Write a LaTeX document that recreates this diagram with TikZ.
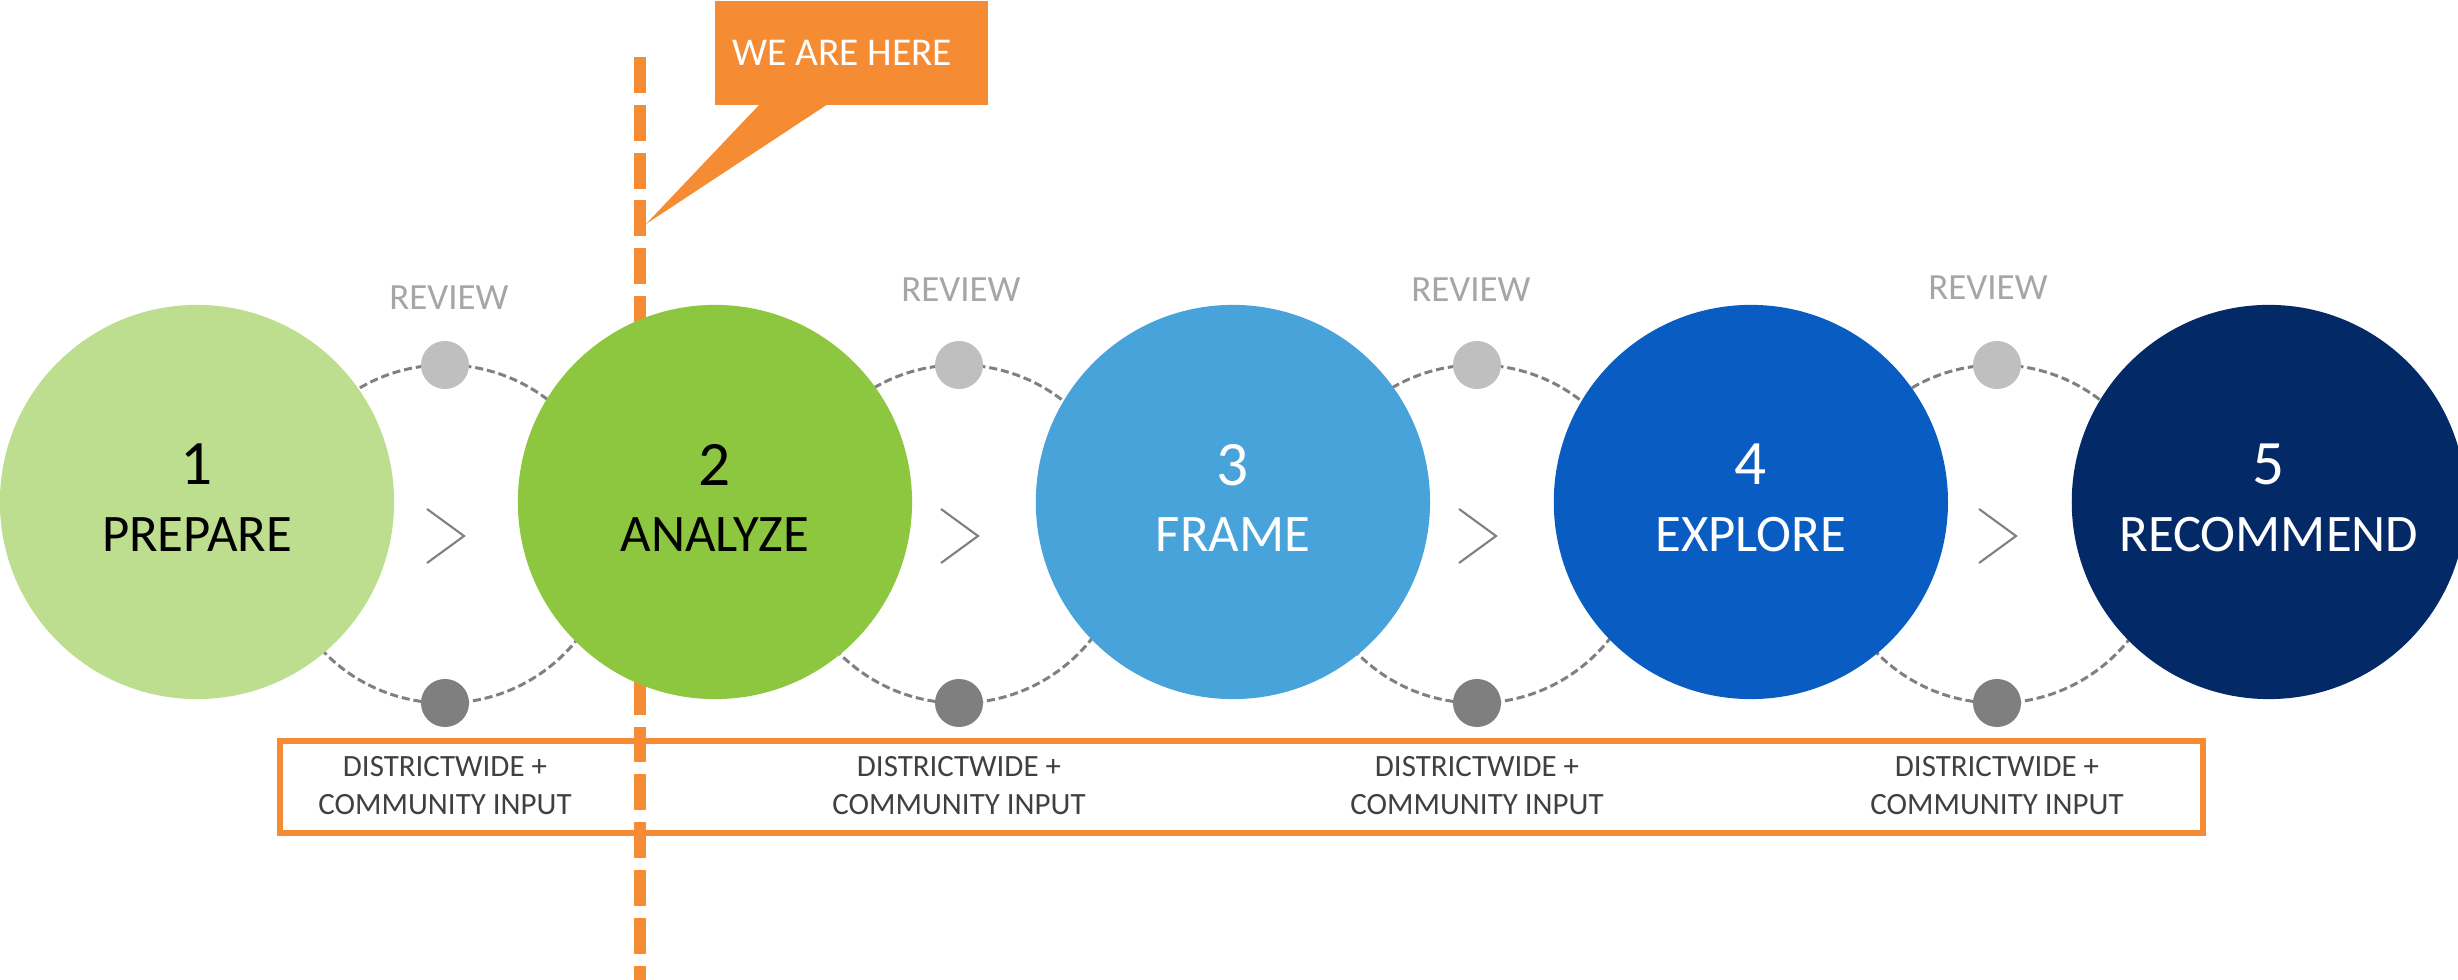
\documentclass[tikz,border=0pt]{standalone}
\usepackage{fontspec}
\setmainfont{Carlito}
\usetikzlibrary{positioning}
\definecolor{hereorange}{HTML}{F58B33}
\definecolor{prepgreen}{HTML}{BDDE8E}
\definecolor{anagreen}{HTML}{8DC63F}
\definecolor{frameblue}{HTML}{47A3DA}
\definecolor{exploreblue}{HTML}{095DC2}
\definecolor{recnavy}{HTML}{032A67}
\definecolor{ringgray}{HTML}{808080}
\definecolor{dotlight}{HTML}{BFBFBF}
\definecolor{dotdark}{HTML}{7F7F7F}
\definecolor{reviewgray}{HTML}{A6A6A6}
\definecolor{inputgray}{HTML}{404040}
\newcommand{\phaseno}[1]{{\fontsize{18}{19}\selectfont #1}}

\begin{document}
\begin{tikzpicture}[x=0.01cm, y=-0.01cm, node distance=1.2225cm,
  phase/.style = {circle, inner sep=0pt, minimum size=3.94cm, align=center,
    text depth=0.08cm, font=\fontsize{15}{19}\selectfont},
  ring/.style = {draw=ringgray, line width=0.85pt, dash pattern=on 2.3pt off 1.1pt},
  topdot/.style = {circle, fill=dotlight, inner sep=0pt, minimum size=0.48cm},
  botdot/.style = {circle, fill=dotdark, inner sep=0pt, minimum size=0.48cm},
  review/.style = {text=reviewgray, inner sep=0pt, font=\fontsize{10.5}{12}\selectfont},
  input/.style = {text=inputgray, inner sep=0pt, align=center,
    font=\fontsize{8.8}{10.8}\selectfont},
  chevron/.style = {draw=ringgray, line width=0.6pt},
  callout/.style = {fill=hereorange, text=white, inner sep=0pt, anchor=north west,
    minimum width=2.73cm, minimum height=1.04cm, font=\fontsize{11.2}{13}\selectfont}]
  \useasboundingbox (0,0) rectangle (2458,980);

  % review rings behind the phases
  \foreach \x [count=\i] in {445,959,1477,1997}
    \draw[ring] (\x,534) circle [radius=1.69cm];

  % current position marker
  \coordinate (mtop) at (640,57);
  \coordinate (mbot) at (640,980);
  \draw[hereorange, line width=3.4pt, dash pattern=on 10.2pt off 3.4pt] (mtop) -- (mbot);

  \node (p1) [phase, fill=prepgreen] at (197,502) {\phaseno{1}\\PREPARE};
  \node (p2) [phase, fill=anagreen, right=of p1] {\phaseno{2}\\ANALYZE};
  \node (p3) [phase, fill=frameblue, text=white, right=of p2] {\phaseno{3}\\FRAME};
  \node (p4) [phase, fill=exploreblue, text=white, right=of p3] {\phaseno{4}\\EXPLORE};
  \node (p5) [phase, fill=recnavy, text=white, right=of p4] {\phaseno{5}\\RECOMMEND};

  \foreach \x/\dx/\dy [count=\i] in {445/4/0.30,959/2/0.38,1477/-6/0.38,1997/-9/0.40} {
    \node (top\i) [topdot] at (\x,365) {};
    \node (bot\i) [botdot] at (\x,703) {};
    \node (rev\i) [review, above=\dy cm of top\i, xshift=\dx*0.01cm] {REVIEW};
    \node (in\i) [input, below=0.28cm of bot\i] {DISTRICTWIDE +\\COMMUNITY INPUT};
    \draw[chevron] (\x-18,509) -- (\x+19,536) -- (\x-18,563);
  }

  \draw[hereorange, line width=1.7pt] (280,741) rectangle (2203,833);

  % callout
  \node (here) [callout] at (714,0) {WE ARE HERE\hspace*{0.18cm}};
  \coordinate (tip) at (646,224);
  \fill[hereorange] (760,104) -- (828,104) -- (tip) -- cycle;
\end{tikzpicture}
\end{document}
